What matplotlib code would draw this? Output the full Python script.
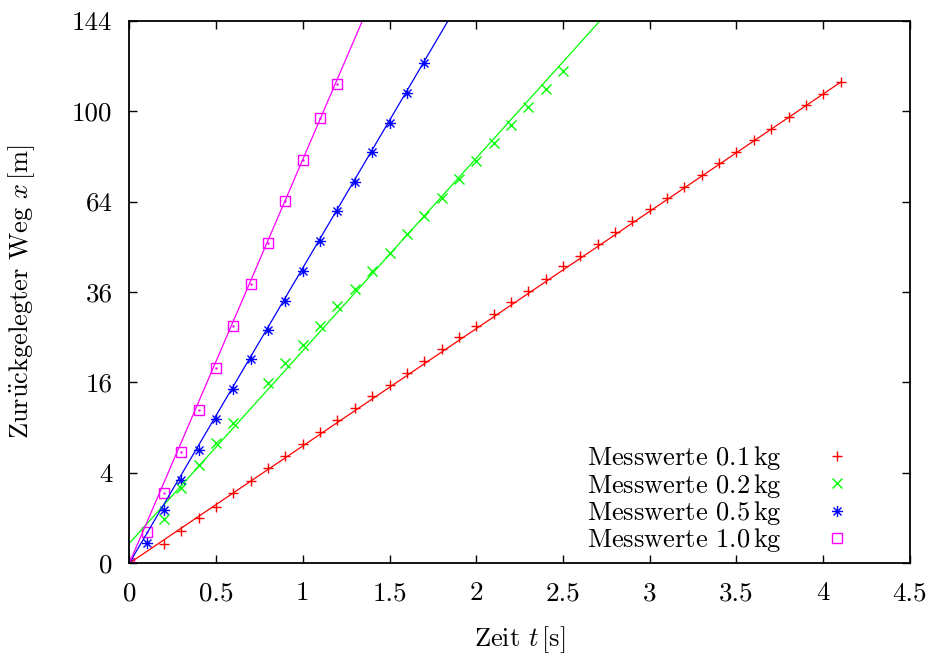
import numpy as np
import matplotlib
matplotlib.use("Agg")
import matplotlib.pyplot as plt
from matplotlib.path import Path

plt.rcParams['font.family'] = 'cmr10'
plt.rcParams['mathtext.fontset'] = 'cm'
plt.rcParams['axes.formatter.use_mathtext'] = True

# Messwerte: Zeit t [s], Weg x [m]
t_01 = [0, 0.2, 0.3, 0.4, 0.5, 0.6, 0.7, 0.8, 0.9, 1.0, 1.1, 1.2, 1.3, 1.4, 1.5,
        1.6, 1.7, 1.8, 1.9, 2.0, 2.1, 2.2, 2.3, 2.4, 2.5, 2.6, 2.7, 2.8, 2.9, 3.0,
        3.1, 3.2, 3.3, 3.4, 3.5, 3.6, 3.7, 3.8, 3.9, 4.0, 4.1]
x_01 = [0, 0.19, 0.50, 0.99, 1.56, 2.40, 3.35, 4.41, 5.62, 6.97, 8.41, 10.11, 11.76,
        13.62, 15.55, 17.77, 20.02, 22.46, 24.98, 27.54, 30.39, 33.32, 36.34, 39.53,
        43.23, 46.19, 49.86, 53.58, 57.35, 61.28, 65.37, 69.36, 73.74, 78.25, 82.85,
        87.50, 92.37, 97.28, 102.58, 107.70, 113.15]

t_02 = [0, 0.2, 0.3, 0.4, 0.5, 0.6, 0.8, 0.9, 1.0, 1.1, 1.2, 1.3, 1.4, 1.5, 1.6,
        1.7, 1.8, 1.9, 2.0, 2.1, 2.2, 2.3, 2.4, 2.5]
x_02 = [0, 0.96, 2.75, 4.73, 7.04, 9.67, 15.95, 19.56, 23.31, 27.54, 32.40, 36.71,
        41.87, 46.99, 52.93, 58.98, 65.37, 72.11, 79.16, 86.51, 93.95, 101.69,
        110.02, 118.53]

t_05 = [0, 0.1, 0.2, 0.3, 0.4, 0.5, 0.6, 0.7, 0.8, 0.9, 1.0, 1.1, 1.2, 1.3, 1.4,
        1.5, 1.6, 1.7]
x_05 = [0, 0.20, 1.39, 3.39, 6.28, 10.18, 14.86, 20.35, 26.62, 33.76, 41.87, 50.89,
        60.70, 70.98, 82.61, 94.67, 108.04, 122.26]

t_10 = [0, 0.1, 0.2, 0.3, 0.4, 0.5, 0.6, 0.7, 0.8, 0.9, 1.0, 1.1, 1.2]
x_10 = [0, 0.48, 2.43, 6.10, 11.49, 18.58, 27.56, 38.07, 50.27, 64.16, 79.74,
        96.83, 112.36]

# Fitgeraden: sqrt(x) = m*t + b
fit_m = [2.595, 4.26, 6.53, 8.93]
fit_b = [0.0, 0.44, 0.0, 0.0]

labels = ['Messwerte 0.1$\\,$kg', 'Messwerte 0.2$\\,$kg',
          'Messwerte 0.5$\\,$kg', 'Messwerte 1.0$\\,$kg']
colors = ['#ff0000', '#00ff00', '#0000ff', '#ff00ff']

yticks = [0, 4, 16, 36, 64, 100, 144]
xticks = [0, 0.5, 1, 1.5, 2, 2.5, 3, 3.5, 4, 4.5]

# gnuplot-Stern (+ und x)
d = 0.72
star = Path([(-1, 0), (1, 0), (0, -1), (0, 1), (-d, -d), (d, d), (-d, d), (d, -d)],
            [Path.MOVETO, Path.LINETO] * 4)

fig = plt.figure(figsize=(9.36, 6.54), dpi=100)
ax = fig.add_axes([0.1381, 0.1387, 0.8341, 0.8296])
ax.set_yscale('function', functions=(lambda v: np.sqrt(np.clip(v, 0, None)),
                                     lambda v: np.square(v)))

ax.plot(t_01, x_01, ls='none', marker='+', ms=7.5, mew=1.0, color=colors[0], label=labels[0])
ax.plot(t_02, x_02, ls='none', marker='x', ms=6.5, mew=1.0, color=colors[1], label=labels[1])
ax.plot(t_05, x_05, ls='none', marker=star, ms=8, mew=1.0, color=colors[2], label=labels[2])
ax.plot(t_10, x_10, ls='none', marker='s', ms=6.5, mew=1.0, mfc='none', color=colors[3], label=labels[3])
ax.plot(t_10, x_10, ls='none', marker='.', ms=1.5, color=colors[3])

t_fit = np.linspace(0, 4.1, 300)
for m, b, c in zip(fit_m, fit_b, colors):
    ax.plot(t_fit, (m * t_fit + b) ** 2, color=c, lw=0.9)

ax.set_xlim(0, 4.5)
ax.set_ylim(0, 144)
ax.set_xticks(xticks)
ax.set_xticklabels([f'{v:g}' for v in xticks])
ax.set_yticks(yticks)
ax.set_yticklabels([str(v) for v in yticks])
ax.minorticks_off()
ax.tick_params(direction='in', length=6, width=1.0, top=True, right=True, labelsize=19.5)
ax.tick_params(axis='y', pad=12)
ax.tick_params(axis='x', pad=13)
for s in ax.spines.values():
    s.set_linewidth(1.3)

ax.set_xlabel('Zeit $t\\,$[s]', fontsize=19)
ax.set_ylabel('Zur$\\ddot{\\rm u}$ckgelegter Weg $x\\,$[m]', fontsize=19)
ax.xaxis.set_label_coords(0.5005, -0.112)
ax.yaxis.set_label_coords(-0.118, 0.5)

ax.legend(loc='lower right', bbox_to_anchor=(0.94, 0.017), markerfirst=False,
          frameon=False, fontsize=19, handlelength=2.0, handletextpad=1.1,
          borderpad=0.0, borderaxespad=0.0, labelspacing=-0.03, numpoints=1)

fig.savefig('out.png', dpi=100)
